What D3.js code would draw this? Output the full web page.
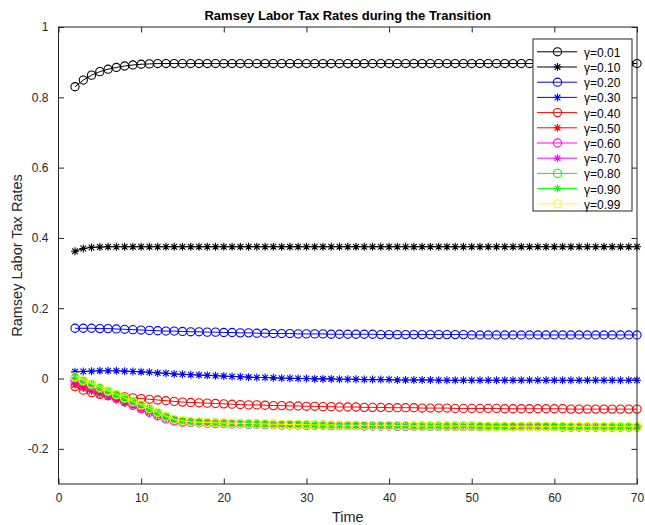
<!DOCTYPE html>
<html>
<head>
<meta charset="utf-8">
<script src="https://cdn.jsdelivr.net/npm/d3@7"></script>
<style>
  html, body { margin: 0; padding: 0; background: #fff; }
  svg { display: block; font-family: "Liberation Sans", Arial, Helvetica, sans-serif; }
</style>
</head>
<body>
<svg id="chart" width="645" height="525"></svg>
<script>
// ---------------- DATA ----------------
const title = "Ramsey Labor Tax Rates during the Transition";
const xLabel = "Time";
const yLabel = "Ramsey Labor Tax Rates";
const time = d3.range(2, 71); // periods 2..70 (69 points)
const xTicks = [0, 10, 20, 30, 40, 50, 60, 70];
const yTicks = [-0.2, 0, 0.2, 0.4, 0.6, 0.8, 1];
const yTickLabels = ["-0.2", "0", "0.2", "0.4", "0.6", "0.8", "1"];
const seriesNames = ["γ=0.01","γ=0.10","γ=0.20","γ=0.30","γ=0.40","γ=0.50","γ=0.60","γ=0.70","γ=0.80","γ=0.90","γ=0.99"];

const g001 = [0.830,0.849,0.863,0.873,0.880,0.885,0.889,0.892,0.894,0.895,0.896,0.896,0.896,0.896,0.896,0.896,0.896,0.896,0.896,0.896,
  0.896,0.896,0.896,0.896,0.896,0.896,0.896,0.896,0.896,0.896,0.896,0.896,0.896,0.896,0.896,0.896,0.896,0.896,0.896,0.896,
  0.896,0.896,0.896,0.896,0.896,0.896,0.896,0.896,0.896,0.896,0.896,0.896,0.896,0.896,0.896,0.896,0.896,0.896,0.896,0.896,
  0.896,0.896,0.896,0.896,0.896,0.896,0.896,0.896,0.896];
const g010 = [0.362,0.370,0.373,0.374,0.375,0.375,0.375,0.375,0.375,0.375,0.375,0.375,0.375,0.375,0.375,0.375,0.375,0.375,0.375,0.375,
  0.375,0.375,0.375,0.375,0.375,0.375,0.375,0.375,0.375,0.375,0.375,0.375,0.375,0.375,0.375,0.375,0.375,0.375,0.375,0.375,
  0.375,0.375,0.375,0.375,0.375,0.375,0.375,0.375,0.375,0.375,0.375,0.375,0.375,0.375,0.375,0.375,0.375,0.375,0.375,0.375,
  0.375,0.375,0.375,0.375,0.375,0.375,0.375,0.375,0.375];
const g020 = [0.143,0.143,0.143,0.142,0.142,0.141,0.140,0.139,0.138,0.137,0.136,0.135,0.135,0.134,0.133,0.133,0.132,0.132,0.131,0.131,
  0.130,0.130,0.129,0.129,0.128,0.128,0.128,0.127,0.127,0.127,0.127,0.126,0.126,0.126,0.126,0.126,0.126,0.125,0.125,0.125,
  0.125,0.125,0.125,0.125,0.125,0.125,0.125,0.125,0.124,0.124,0.124,0.124,0.124,0.124,0.124,0.124,0.124,0.124,0.124,0.124,
  0.124,0.124,0.124,0.124,0.124,0.124,0.124,0.124,0.124];
const g030 = [0.019,0.020,0.021,0.022,0.022,0.022,0.021,0.020,0.019,0.018,0.016,0.015,0.013,0.012,0.011,0.010,0.009,0.008,0.007,0.006,
  0.005,0.004,0.003,0.003,0.002,0.001,0.001,0.000,0.000,-0.001,-0.001,-0.001,-0.002,-0.002,-0.002,-0.003,-0.003,-0.003,-0.003,-0.004,
  -0.004,-0.004,-0.004,-0.004,-0.005,-0.005,-0.005,-0.005,-0.005,-0.005,-0.005,-0.005,-0.005,-0.005,-0.005,-0.005,-0.005,-0.005,-0.005,-0.005,
  -0.005,-0.005,-0.005,-0.005,-0.005,-0.005,-0.005,-0.005,-0.005];
const g040 = [-0.023,-0.033,-0.040,-0.045,-0.048,-0.050,-0.052,-0.055,-0.057,-0.059,-0.061,-0.063,-0.065,-0.067,-0.068,-0.069,-0.070,-0.071,-0.072,-0.073,
  -0.074,-0.075,-0.075,-0.076,-0.077,-0.077,-0.078,-0.078,-0.079,-0.079,-0.080,-0.080,-0.081,-0.081,-0.081,-0.082,-0.082,-0.082,-0.083,-0.083,
  -0.083,-0.083,-0.084,-0.084,-0.084,-0.084,-0.085,-0.085,-0.085,-0.085,-0.085,-0.085,-0.086,-0.086,-0.086,-0.086,-0.086,-0.086,-0.086,-0.086,
  -0.087,-0.087,-0.087,-0.087,-0.087,-0.087,-0.087,-0.087,-0.087];
const g050 = [-0.018,-0.027,-0.036,-0.044,-0.052,-0.060,-0.069,-0.078,-0.087,-0.096,-0.105,-0.113,-0.118,-0.121,-0.123,-0.124,-0.125,-0.126,-0.127,-0.128,
  -0.128,-0.129,-0.129,-0.130,-0.130,-0.131,-0.131,-0.131,-0.132,-0.132,-0.132,-0.133,-0.133,-0.133,-0.133,-0.134,-0.134,-0.134,-0.134,-0.135,
  -0.135,-0.135,-0.135,-0.135,-0.135,-0.135,-0.135,-0.135,-0.135,-0.136,-0.136,-0.136,-0.136,-0.136,-0.136,-0.136,-0.136,-0.136,-0.136,-0.137,
  -0.137,-0.137,-0.137,-0.137,-0.137,-0.137,-0.137,-0.137,-0.137];
const g060 = [-0.008,-0.018,-0.028,-0.037,-0.047,-0.056,-0.066,-0.076,-0.086,-0.096,-0.106,-0.115,-0.121,-0.124,-0.125,-0.126,-0.127,-0.128,-0.128,-0.129,
  -0.129,-0.130,-0.130,-0.131,-0.131,-0.132,-0.132,-0.132,-0.133,-0.133,-0.133,-0.134,-0.134,-0.134,-0.134,-0.135,-0.135,-0.135,-0.135,-0.136,
  -0.136,-0.136,-0.136,-0.136,-0.136,-0.136,-0.136,-0.136,-0.136,-0.137,-0.137,-0.137,-0.137,-0.137,-0.137,-0.137,-0.137,-0.137,-0.137,-0.138,
  -0.138,-0.138,-0.138,-0.138,-0.138,-0.138,-0.138,-0.138,-0.138];
const g070 = [-0.004,-0.014,-0.024,-0.034,-0.044,-0.053,-0.063,-0.073,-0.083,-0.093,-0.103,-0.113,-0.119,-0.122,-0.124,-0.125,-0.126,-0.127,-0.127,-0.128,
  -0.128,-0.129,-0.129,-0.130,-0.130,-0.131,-0.131,-0.131,-0.132,-0.132,-0.132,-0.133,-0.133,-0.133,-0.133,-0.134,-0.134,-0.134,-0.134,-0.135,
  -0.135,-0.135,-0.135,-0.135,-0.135,-0.135,-0.135,-0.135,-0.135,-0.136,-0.136,-0.136,-0.136,-0.136,-0.136,-0.136,-0.136,-0.136,-0.136,-0.137,
  -0.137,-0.137,-0.137,-0.137,-0.137,-0.137,-0.137,-0.137,-0.137];
const g080 = [0.002,-0.008,-0.018,-0.028,-0.038,-0.047,-0.057,-0.067,-0.077,-0.087,-0.098,-0.109,-0.117,-0.121,-0.123,-0.124,-0.125,-0.126,-0.127,-0.128,
  -0.128,-0.129,-0.129,-0.130,-0.130,-0.131,-0.131,-0.131,-0.132,-0.132,-0.132,-0.133,-0.133,-0.133,-0.133,-0.134,-0.134,-0.134,-0.134,-0.135,
  -0.135,-0.135,-0.135,-0.135,-0.135,-0.135,-0.135,-0.135,-0.135,-0.136,-0.136,-0.136,-0.136,-0.136,-0.136,-0.136,-0.136,-0.136,-0.136,-0.137,
  -0.137,-0.137,-0.137,-0.137,-0.137,-0.137,-0.137,-0.137,-0.137];
const g090 = [0.003,-0.007,-0.017,-0.027,-0.037,-0.046,-0.056,-0.066,-0.076,-0.086,-0.097,-0.108,-0.116,-0.121,-0.123,-0.124,-0.125,-0.126,-0.127,-0.128,
  -0.128,-0.129,-0.129,-0.130,-0.130,-0.131,-0.131,-0.131,-0.132,-0.132,-0.132,-0.133,-0.133,-0.133,-0.133,-0.134,-0.134,-0.134,-0.134,-0.135,
  -0.135,-0.135,-0.135,-0.135,-0.135,-0.135,-0.135,-0.135,-0.135,-0.136,-0.136,-0.136,-0.136,-0.136,-0.136,-0.136,-0.136,-0.136,-0.136,-0.137,
  -0.137,-0.137,-0.137,-0.137,-0.137,-0.137,-0.137,-0.137,-0.137];
const g099 = [0.005,-0.005,-0.015,-0.025,-0.035,-0.045,-0.055,-0.065,-0.075,-0.085,-0.096,-0.107,-0.116,-0.120,-0.123,-0.124,-0.125,-0.126,-0.126,-0.127,
  -0.128,-0.128,-0.129,-0.129,-0.130,-0.130,-0.131,-0.131,-0.131,-0.132,-0.132,-0.132,-0.133,-0.133,-0.133,-0.133,-0.134,-0.134,-0.134,-0.134,
  -0.134,-0.135,-0.135,-0.135,-0.135,-0.135,-0.135,-0.135,-0.135,-0.135,-0.136,-0.136,-0.136,-0.136,-0.136,-0.136,-0.136,-0.136,-0.136,-0.136,
  -0.137,-0.137,-0.137,-0.137,-0.137,-0.137,-0.137,-0.137,-0.137];

const seriesValues = [g001, g010, g020, g030, g040, g050, g060, g070, g080, g090, g099];
const seriesColors = ["#000000","#000000","#0000ff","#0000ff","#ff0000","#ff0000","#ff00ff","#ff00ff","#00ff00","#00ff00","#ffff00"];
const seriesMarkers = ["o","*","o","*","o","*","o","*","o","*","o"];

// ---------------- LAYOUT ----------------
const svg = d3.select("#chart");
const L = 58.5, R = 637, T = 27, B = 484;
const axisColor = "#262626";

const x = d3.scaleLinear().domain([0, 70]).range([L, R]);
const y = d3.scaleLinear().domain([-0.3, 1]).range([B, T]);

svg.append("rect").attr("width", 645).attr("height", 525).attr("fill", "#fff");

const line = d3.line().x(d => x(d.t)).y(d => y(d.v));
const starPath = (s) => {
  const d = s * 0.72;
  return `M${-s},0L${s},0M0,${-s}L0,${s}M${-d},${-d}L${d},${d}M${-d},${d}L${d},${-d}`;
};

function drawMarker(sel, type, color) {
  if (type === "o") {
    sel.append("circle").attr("r", 4.1).attr("fill", "none")
      .attr("stroke", color).attr("stroke-width", 1.1);
  } else {
    sel.append("path").attr("d", starPath(4)).attr("fill", "none")
      .attr("stroke", color).attr("stroke-width", 1.1);
  }
}

const plot = svg.append("g");
seriesValues.forEach((vals, i) => {
  const data = time.map((t, k) => ({ t, v: vals[k] }));
  const g = plot.append("g");
  g.append("path").datum(data).attr("d", line).attr("fill", "none")
    .attr("stroke", seriesColors[i]).attr("stroke-width", 1);
  g.selectAll("g.m").data(data).enter().append("g").attr("class", "m")
    .attr("transform", d => `translate(${x(d.t)},${y(d.v)})`)
    .each(function() { drawMarker(d3.select(this), seriesMarkers[i], seriesColors[i]); });
});

// axes (MATLAB-like box with inward ticks)
const tickLen = 5.5;
const ax = svg.append("g").attr("stroke", axisColor).attr("stroke-width", 1).attr("fill", "none");
ax.append("rect").attr("x", L).attr("y", T).attr("width", R - L).attr("height", B - T);

const xAxisB = d3.axisBottom(x).tickValues(xTicks).tickSizeInner(-tickLen).tickSizeOuter(0).tickPadding(9).tickFormat(d3.format("d"));
const xAxisT = d3.axisTop(x).tickValues(xTicks).tickSizeInner(-tickLen).tickSizeOuter(0).tickFormat("");
const yAxisL = d3.axisLeft(y).tickValues(yTicks).tickSizeInner(-tickLen).tickSizeOuter(0).tickPadding(10).tickFormat((d, i) => yTickLabels[i]);
const yAxisR = d3.axisRight(y).tickValues(yTicks).tickSizeInner(-tickLen).tickSizeOuter(0).tickFormat("");

function styleAxis(g) {
  g.select(".domain").remove();
  g.selectAll(".tick line").attr("stroke", axisColor);
  g.selectAll(".tick text").attr("fill", axisColor).attr("font-size", 12)
    .attr("font-family", "Liberation Sans, Arial, sans-serif");
}
svg.append("g").attr("transform", `translate(0,${B})`).call(xAxisB).call(styleAxis);
svg.append("g").attr("transform", `translate(0,${T})`).call(xAxisT).call(styleAxis);
svg.append("g").attr("transform", `translate(${L},0)`).call(yAxisL).call(styleAxis);
svg.append("g").attr("transform", `translate(${R},0)`).call(yAxisR).call(styleAxis);

// titles
svg.append("text").attr("x", (L + R) / 2).attr("y", 20).attr("text-anchor", "middle")
  .attr("font-size", 13).attr("font-weight", "bold").attr("fill", "#000").text(title);
svg.append("text").attr("x", (L + R) / 2).attr("y", 522).attr("text-anchor", "middle")
  .attr("font-size", 14.5).attr("fill", axisColor).text(xLabel);
svg.append("text").attr("transform", `translate(22,${(T + B) / 2}) rotate(-90)`).attr("text-anchor", "middle")
  .attr("font-size", 14.5).attr("fill", axisColor).text(yLabel);

// legend
const lgX = 533, lgY = 39, lgW = 99, lgH = 172, lgStep = 15.2, lgFirst = 51.8;
const lg = svg.append("g");
lg.append("rect").attr("x", lgX).attr("y", lgY).attr("width", lgW).attr("height", lgH)
  .attr("fill", "#fff").attr("stroke", axisColor).attr("stroke-width", 1);
seriesNames.forEach((name, i) => {
  const cy = lgFirst + i * lgStep;
  lg.append("line").attr("x1", lgX + 4).attr("x2", lgX + 44).attr("y1", cy).attr("y2", cy)
    .attr("stroke", seriesColors[i]).attr("stroke-width", 1);
  const m = lg.append("g").attr("transform", `translate(${lgX + 24.5},${cy})`);
  drawMarker(m, seriesMarkers[i], seriesColors[i]);
  lg.append("text").attr("x", lgX + 51).attr("y", cy + 5).attr("font-size", 12)
    .attr("fill", "#000").text(name);
});
</script>
</body>
</html>
